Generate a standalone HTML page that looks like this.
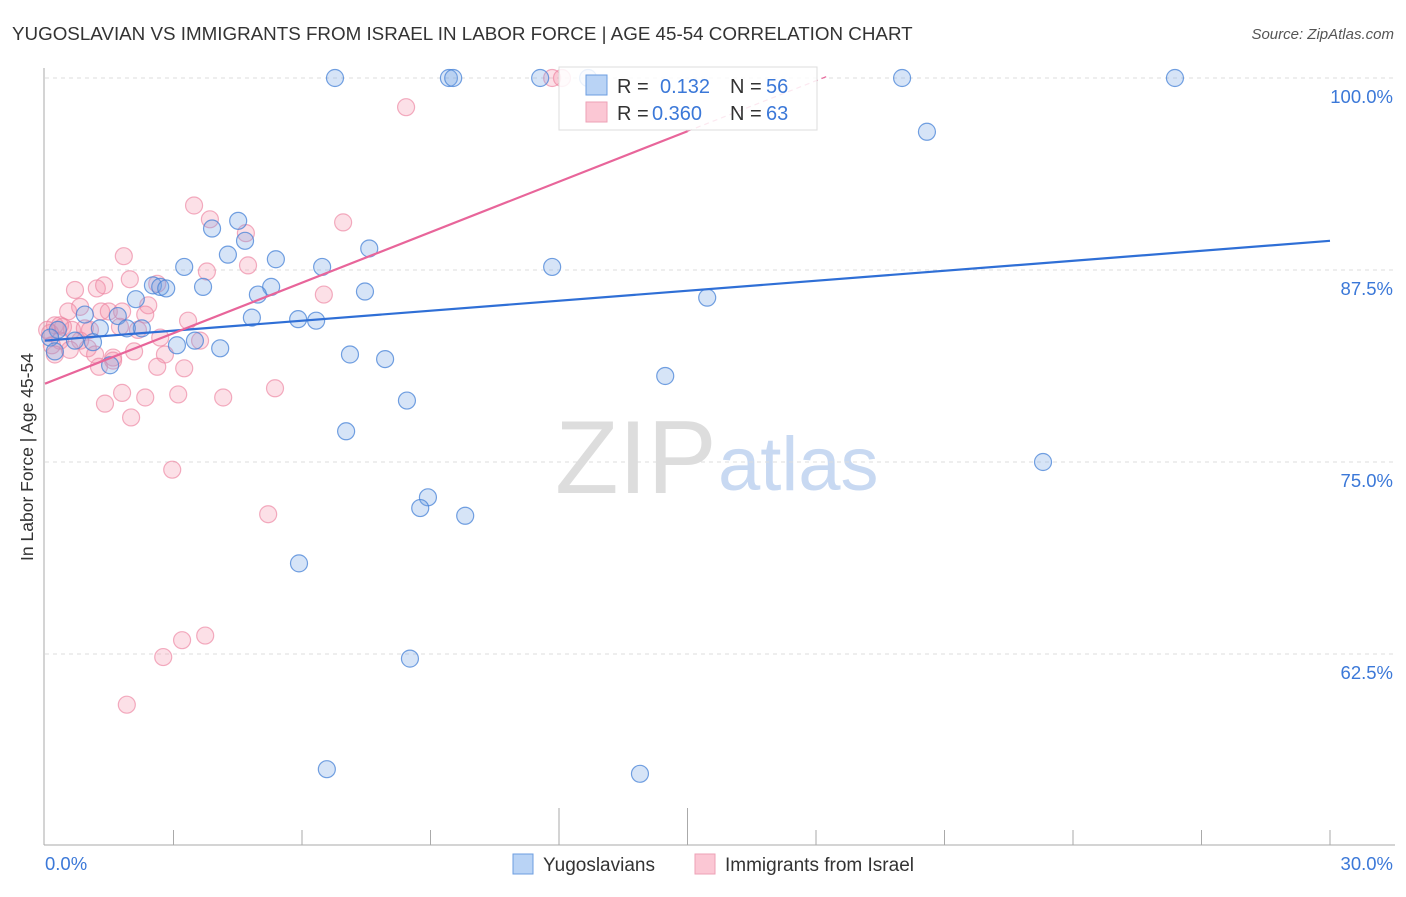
<!DOCTYPE html>
<html><head><meta charset="utf-8"><style>
body{margin:0;background:#fff;font-family:"Liberation Sans",sans-serif;}
svg text{font-family:"Liberation Sans",sans-serif;}
</style></head><body>
<svg id="chart" width="1406" height="892" viewBox="0 0 1406 892" xmlns="http://www.w3.org/2000/svg">
<text x="12" y="40" font-size="18.8" fill="#333">YUGOSLAVIAN VS IMMIGRANTS FROM ISRAEL IN LABOR FORCE | AGE 45-54 CORRELATION CHART</text>
<text x="1394" y="39" font-size="15" fill="#555" font-style="italic" text-anchor="end">Source: ZipAtlas.com</text>
<text transform="translate(33,457) rotate(-90)" font-size="17.5" fill="#333" text-anchor="middle">In Labor Force | Age 45-54</text>
<g>
<text x="555" y="493" font-size="104" fill="#ddd" font-family="Liberation Serif,serif">ZIP</text>
<text x="718" y="490" font-size="76" fill="#c8d9f2">atlas</text>
</g>
<g id="grid"></g>
<g id="axes"></g>
<g id="marks"></g>
<g id="trends"></g>
<g>
<rect x="559" y="67" width="258" height="63" fill="#fff" fill-opacity="0.85" stroke="#ddd"/>
<rect x="586" y="75" width="21" height="20" fill="#b9d3f5" stroke="#6c9ee0"/>
<rect x="586" y="102" width="21" height="20" fill="#fbc7d4" stroke="#eea0b6"/>
<text x="617" y="93" font-size="20" fill="#333">R =</text>
<text x="660" y="93" font-size="20" fill="#3b78d8">0.132</text>
<text x="730" y="93" font-size="20" fill="#333">N =</text>
<text x="766" y="93" font-size="20" fill="#3b78d8">56</text>
<text x="617" y="120" font-size="20" fill="#333">R =</text>
<text x="652" y="120" font-size="20" fill="#3b78d8">0.360</text>
<text x="730" y="120" font-size="20" fill="#333">N =</text>
<text x="766" y="120" font-size="20" fill="#3b78d8">63</text>
</g>
<g>
<rect x="513" y="854" width="20" height="20" fill="#b9d3f5" stroke="#6c9ee0"/>
<text x="543" y="871" font-size="19" fill="#333">Yugoslavians</text>
<rect x="695" y="854" width="20" height="20" fill="#fbc7d4" stroke="#eea0b6"/>
<text x="725" y="871" font-size="19" fill="#333">Immigrants from Israel</text>
</g>
</svg>
<script>
const xTicks=[0,3,6,9,12,15,18,21,24,27,30];
const yTicks=[100,87.5,75,62.5];
const yTickLabels=["100.0%","87.5%","75.0%","62.5%"];
const blueX=[6.77,9.43,9.53,11.56,12.68,20.01,26.38,20.59,4.51,3.90,4.67,7.57,4.27,5.39,3.25,6.47,11.84,2.52,2.69,2.83,3.69,5.28,4.97,7.47,2.12,15.46,1.70,0.93,4.83,5.91,6.33,1.28,2.26,1.91,0.30,0.12,0.70,1.12,3.50,3.08,4.09,7.12,7.94,1.52,14.48,8.45,7.03,23.30,8.94,8.76,9.81,5.93,8.52,6.58,13.89,0.23];
const blueY=[100,100,100,100,100,100,100,96.5,90.7,90.2,89.4,88.9,88.5,88.2,87.7,87.7,87.7,86.5,86.4,86.3,86.4,86.4,85.9,86.1,85.6,85.7,84.5,84.6,84.4,84.3,84.2,83.7,83.7,83.7,83.6,83.1,82.9,82.8,82.9,82.6,82.4,82.0,81.7,81.3,80.6,79.0,77.0,75.0,72.7,72.0,71.5,68.4,62.2,55.0,54.7,82.2];
const pinkX=[11.84,12.07,8.43,3.48,3.85,4.69,6.96,1.84,3.78,4.74,1.98,1.21,1.38,0.70,2.62,6.51,2.41,0.82,0.54,1.31,1.49,1.80,3.34,2.34,0.23,0.42,0.63,0.93,1.75,2.17,2.69,3.62,0.12,0.35,1.00,1.17,2.08,2.80,1.59,1.26,2.62,3.25,1.59,5.37,1.80,3.11,2.34,1.40,4.16,2.01,2.97,5.21,3.74,3.20,2.76,1.91,0.23,0.35,0.16,0.82,0.58,1.05,0.05];
const pinkY=[100,100,98.1,91.7,90.8,89.9,90.6,88.4,87.4,87.8,86.9,86.3,86.5,86.2,86.6,85.9,85.2,85.1,84.8,84.8,84.8,84.8,84.2,84.6,83.9,83.8,83.6,83.7,83.8,83.6,83.1,82.9,83.4,82.9,82.4,82.0,82.2,82.0,81.8,81.2,81.2,81.1,81.6,79.8,79.5,79.4,79.2,78.8,79.2,77.9,74.5,71.6,63.7,63.4,62.3,59.2,82.0,83.9,82.6,82.9,82.3,83.6,83.6];
const blueTrend=[82.9,89.4];
const pinkTrend=[80.1,100.15];
const pinkTrendEnd=18.3;
const pinkSolidEnd=15.0;

const NS="http://www.w3.org/2000/svg";
const X=v=>45+v*(1285/30);
const Y=v=>78+(100-v)*15.36;
function mk(tag,attrs,parent){const e=document.createElementNS(NS,tag);for(const k in attrs)e.setAttribute(k,attrs[k]);parent.appendChild(e);return e;}
const grid=document.getElementById('grid'),axes=document.getElementById('axes'),marks=document.getElementById('marks'),trends=document.getElementById('trends');
yTicks.forEach((t,i)=>{
 const l=mk('line',{x1:45,x2:1395,y1:Y(t),y2:Y(t),stroke:'#ddd','stroke-dasharray':'4,4'},grid);
 
 
 const tx=mk('text',{x:1393,y:Y(t)+25,'font-size':18.5,fill:'#3b78d8','text-anchor':'end'},axes);
 tx.textContent=yTickLabels[i];
 
 
});
let ax=mk('line',{x1:44,x2:44,y1:68,y2:845,stroke:'#aaa'},axes);


ax=mk('line',{x1:44,x2:1395,y1:845,y2:845,stroke:'#aaa'},axes);


xTicks.slice(1).forEach((t,i)=>{
 const tall=(i===3||i===4);
 const l=mk('line',{x1:X(t),x2:X(t),y1:tall?808:830,y2:845,stroke:'#aaa'},axes);
 
 
});
let t0=mk('text',{x:45,y:870,'font-size':18.5,fill:'#3b78d8'},axes);t0.textContent=xTicks[0].toFixed(1)+'%';


let t1=mk('text',{x:1393,y:870,'font-size':18.5,fill:'#3b78d8','text-anchor':'end'},axes);t1.textContent=xTicks[xTicks.length-1].toFixed(1)+'%';


pinkX.forEach((x,i)=>{
 const c=mk('circle',{cx:X(x),cy:Y(pinkY[i]),r:8.5,fill:'rgba(244,143,170,0.28)',stroke:'rgba(236,130,160,0.65)','stroke-width':1.2},marks);
 
 
});
blueX.forEach((x,i)=>{
 const c=mk('circle',{cx:X(x),cy:Y(blueY[i]),r:8.5,fill:'rgba(120,165,230,0.3)',stroke:'rgba(70,130,215,0.75)','stroke-width':1.2},marks);
 
 
});
const pv=x=>pinkTrend[0]+(pinkTrend[1]-pinkTrend[0])*x/pinkTrendEnd;
let tl=mk('line',{x1:X(0),y1:Y(blueTrend[0]),x2:X(30),y2:Y(blueTrend[1]),stroke:'#2f6fd6','stroke-width':2.2},trends);


tl=mk('line',{x1:X(0),y1:Y(pv(0)),x2:X(pinkSolidEnd),y2:Y(pv(pinkSolidEnd)),stroke:'#e8659a','stroke-width':2.2},trends);


tl=mk('line',{x1:X(pinkSolidEnd),y1:Y(pv(pinkSolidEnd)),x2:X(pinkTrendEnd),y2:Y(pv(pinkTrendEnd)),stroke:'#e8659a','stroke-width':1.2,'stroke-dasharray':'5,4'},trends);


</script>
</body></html>
